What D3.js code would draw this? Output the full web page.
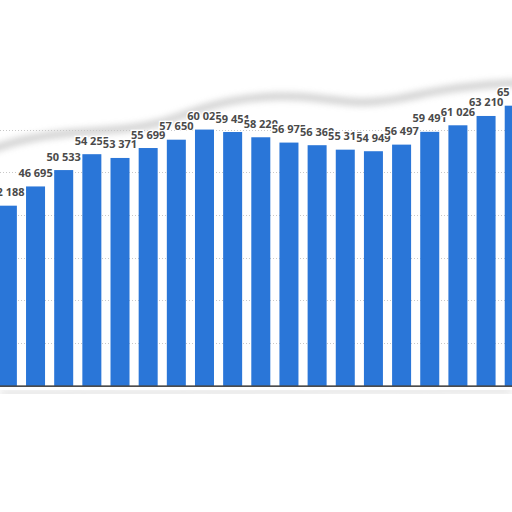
<!DOCTYPE html>
<html>
<head>
<meta charset="utf-8">
<script src="https://cdn.jsdelivr.net/npm/d3@7"></script>
<style>
  html, body { margin: 0; padding: 0; background: #fff; }
  svg { display: block; }
</style>
</head>
<body>
<svg width="512" height="512"></svg>
<script>
// values (last digit of overlapped labels estimated)
const categories = ["1","2","3","4","5","6","7","8","9","10","11","12","13","14","15","16","17","18","19"];
const values = [42188, 46695, 50533, 54255, 53371, 55699, 57650, 60025, 59451, 58220,
                56975, 56360, 55315, 54949, 56497, 59491, 61026, 63210, 65620];
const gridTicks = [10000, 20000, 30000, 40000, 50000, 60000];

const svg = d3.select('svg');
const width = 512;

const locale = d3.formatLocale({decimal: ",", thousands: " ", grouping: [3], currency: ["", ""]});
const fmt = locale.format(",d");

// chart is cropped: the band runs off both sides
const x = d3.scaleBand()
  .domain(categories)
  .range([-6.7, 528.3])
  .paddingInner(0.325)
  .paddingOuter(0.1625);

const y = d3.scaleLinear()
  .domain([0, 70000])
  .range([385.7, 87]);

// smoky smudge along the top and bottom
const defs = svg.append('defs');
defs.append('filter').attr('id', 'blur')
  .attr('x', '-20%').attr('y', '-50%').attr('width', '140%').attr('height', '200%')
  .append('feGaussianBlur').attr('stdDeviation', 3.5);

const smoke = [[-10,150],[20,140],[60,133],[120,130],[160,124],[190,112],[230,100],[280,95],[320,98],[360,104],[400,99],[440,90],[480,85],[520,83]];
svg.append('path')
  .attr('d', d3.line().curve(d3.curveBasis)(smoke))
  .attr('fill', 'none')
  .attr('stroke', '#9a9a9a')
  .attr('stroke-width', 6)
  .attr('opacity', 0.55)
  .attr('filter', 'url(#blur)');

svg.append('path')
  .attr('d', d3.line()([[0,393],[512,391]]))
  .attr('stroke', '#b0b0b0')
  .attr('stroke-width', 3)
  .attr('opacity', 0.7)
  .attr('filter', 'url(#blur)');

// dotted grid
svg.append('g')
  .selectAll('line')
  .data(gridTicks)
  .enter()
  .append('line')
  .attr('x1', 0).attr('x2', width)
  .attr('y1', d => Math.round(y(d)) + 0.5)
  .attr('y2', d => Math.round(y(d)) + 0.5)
  .attr('stroke', '#c8c8c8')
  .attr('stroke-width', 1)
  .attr('stroke-dasharray', '1,2');

// bars
svg.append('g')
  .selectAll('rect')
  .data(values)
  .enter()
  .append('rect')
  .attr('x', (d, i) => x(categories[i]))
  .attr('width', x.bandwidth())
  .attr('y', d => y(d))
  .attr('height', d => y(0) - y(d))
  .attr('fill', '#2a76d8');

// baseline
svg.append('line')
  .attr('x1', 0).attr('x2', width)
  .attr('y1', y(0) + 0.5).attr('y2', y(0) + 0.5)
  .attr('stroke', '#111')
  .attr('stroke-width', 1.3);

// value labels, each one knocks out the one before it
svg.append('g')
  .selectAll('text')
  .data(values)
  .enter()
  .append('text')
  .attr('x', (d, i) => x(categories[i]) + x.bandwidth() / 2)
  .attr('y', d => y(d) - 9.5)
  .attr('text-anchor', 'middle')
  .attr('font-family', '"Open Sans", sans-serif')
  .attr('font-weight', 'bold')
  .attr('font-size', 11)
  .attr('fill', '#4a4a4a')
  .attr('stroke', '#fff')
  .attr('stroke-width', 2.5)
  .attr('paint-order', 'stroke')
  .text(d => fmt(d));
</script>
</body>
</html>
